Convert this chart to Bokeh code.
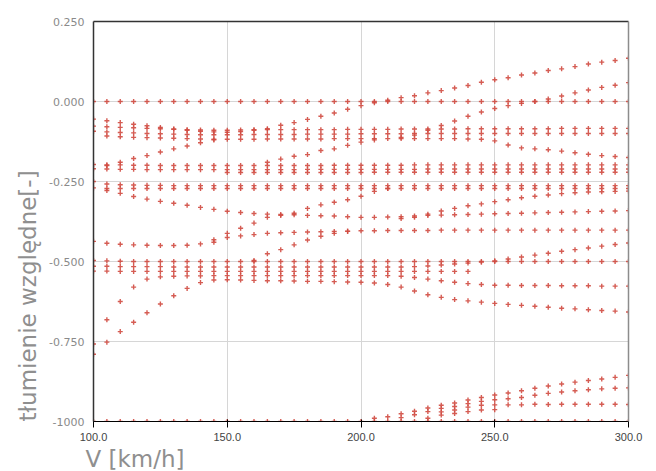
from bokeh.plotting import figure
from bokeh.models import Range1d, FixedTicker, ColumnDataSource, Title, LinearAxis
from bokeh.embed import file_html
from bokeh.resources import INLINE

# speed step between computed points [km/h]
V_STEP = 5

x_ticks = [100, 150, 200, 250, 300]
x_tick_labels = ["100.0", "150.0", "200.0", "250.0", "300.0"]
y_ticks = [0.25, 0.0, -0.25, -0.5, -0.75, -1.0]
y_tick_labels = ["0.250", "0.000", "-0.250", "-0.500", "-0.750", "-1000"]

# each branch: first speed and relative damping values every 5 km/h
zero_start = 100
zero_v = [0.0, 0.0, 0.0, 0.0, 0.0, 0.0, 0.0, 0.0, 0.0, 0.0,
          0.0, 0.0, 0.0, 0.0, 0.0, 0.0, 0.0, 0.0, 0.0, 0.0,
          0.0, 0.0, 0.0, 0.0, 0.0, 0.0, 0.0, 0.0, 0.0, 0.0,
          0.0, 0.0, 0.0, 0.0, 0.0, 0.0, 0.0, 0.0, 0.0, 0.0, 0.0]

r1_start = 100
r1_v = [-0.055, -0.06, -0.066, -0.071, -0.076, -0.081, -0.086, -0.09, -0.093, -0.095,
        -0.096, -0.094, -0.09, -0.085, -0.074, -0.066, -0.056, -0.046, -0.036, -0.024,
        -0.013, -0.004, 0.004, 0.012, 0.018, 0.027, 0.034, 0.042, 0.05, 0.06,
        0.068, 0.074, 0.083, 0.089, 0.097, 0.102, 0.109, 0.117, 0.123, 0.128, 0.135]

r2_start = 215
r2_v = [-0.112, -0.105, -0.09, -0.075, -0.061, -0.046, -0.033, -0.022, -0.013, -0.006,
        0.0, 0.008, 0.017, 0.027, 0.036, 0.044, 0.051, 0.059]

b2_start = 100
b2_v = [-0.077, -0.079, -0.081, -0.082, -0.084, -0.085, -0.087, -0.088, -0.089, -0.09,
        -0.09, -0.089, -0.088, -0.088, -0.088, -0.088, -0.088, -0.088, -0.088, -0.087,
        -0.087, -0.087, -0.087, -0.086, -0.086, -0.086, -0.086, -0.086, -0.085, -0.085,
        -0.085, -0.085, -0.085, -0.085, -0.085, -0.084, -0.084, -0.084, -0.084, -0.084, -0.084]

b3_start = 100
b3_v = [-0.093, -0.095, -0.097, -0.098, -0.1, -0.101, -0.102, -0.103, -0.104, -0.104,
        -0.104, -0.104, -0.103, -0.103, -0.103, -0.103, -0.102, -0.102, -0.102, -0.102,
        -0.101, -0.101, -0.101, -0.101, -0.1, -0.1, -0.1, -0.1, -0.1, -0.1,
        -0.1, -0.1, -0.1, -0.1, -0.1, -0.1, -0.1, -0.1, -0.1, -0.1, -0.1]

b4_start = 105
b4_v = [-0.108, -0.11, -0.112, -0.113, -0.114, -0.115, -0.116, -0.117, -0.118, -0.118,
        -0.118, -0.118, -0.117, -0.117, -0.117, -0.117, -0.117, -0.116, -0.116, -0.116,
        -0.116, -0.116, -0.116, -0.116, -0.116, -0.116, -0.116, -0.117, -0.118,
        -0.123, -0.136, -0.145, -0.148, -0.151, -0.155, -0.16, -0.165, -0.169, -0.172, -0.175]

up1_start = 105
up1_v = [-0.2, -0.19, -0.178, -0.169, -0.158, -0.148, -0.139, -0.129, -0.12]

up2_start = 165
up2_v = [-0.19, -0.18, -0.171, -0.166, -0.153, -0.148, -0.137, -0.127, -0.12]

c1_start = 100
c1_v = [-0.197, -0.198, -0.198, -0.199, -0.199, -0.2, -0.2, -0.2, -0.2, -0.2,
        -0.2, -0.2, -0.2, -0.2, -0.2, -0.2, -0.2, -0.2, -0.199, -0.199,
        -0.199, -0.199, -0.199, -0.199, -0.198, -0.198, -0.198, -0.198, -0.198, -0.198,
        -0.198, -0.198, -0.198, -0.198, -0.198, -0.198, -0.198, -0.198, -0.198, -0.198, -0.198]

c2_start = 100
c2_v = [-0.21, -0.211, -0.212, -0.212, -0.213, -0.213, -0.213, -0.213, -0.213, -0.213,
        -0.213, -0.213, -0.213, -0.213, -0.213, -0.213, -0.212, -0.212, -0.212, -0.212,
        -0.212, -0.212, -0.212, -0.212, -0.212, -0.211, -0.211, -0.211, -0.211, -0.211,
        -0.211, -0.211, -0.211, -0.211, -0.211, -0.211, -0.211, -0.211, -0.211, -0.211, -0.211]

c3_start = 150
c3_v = [-0.222, -0.222, -0.222, -0.222, -0.222, -0.222, -0.222, -0.222, -0.222, -0.222,
        -0.222, -0.221, -0.221, -0.221, -0.221, -0.221, -0.221, -0.221, -0.221, -0.221,
        -0.221, -0.221, -0.221, -0.221, -0.221, -0.221, -0.221, -0.221, -0.221, -0.221, -0.221]

d1_start = 100
d1_v = [-0.25, -0.258, -0.26, -0.261, -0.262, -0.262, -0.263, -0.263, -0.263, -0.263,
        -0.263, -0.263, -0.263, -0.263, -0.263, -0.263, -0.263, -0.263, -0.263, -0.263,
        -0.263, -0.263, -0.263, -0.263, -0.263, -0.263, -0.263, -0.263, -0.263, -0.263,
        -0.263, -0.263, -0.263, -0.263, -0.263, -0.263, -0.263, -0.263, -0.263, -0.263, -0.263]

d2_start = 100
d2_v = [-0.27, -0.272, -0.272, -0.272, -0.272, -0.272, -0.272, -0.272, -0.272, -0.272,
        -0.272, -0.272, -0.272, -0.272, -0.272, -0.272, -0.272, -0.272, -0.272, -0.272,
        -0.272, -0.272, -0.272, -0.272, -0.272, -0.272, -0.272, -0.272, -0.272, -0.272,
        -0.272, -0.272, -0.272, -0.272, -0.272, -0.272, -0.272, -0.272, -0.272, -0.272, -0.272]

down1_start = 105
down1_v = [-0.278, -0.287, -0.297, -0.305, -0.312, -0.318, -0.324, -0.331, -0.337, -0.343,
           -0.347, -0.35, -0.352, -0.353, -0.354, -0.356, -0.357, -0.358, -0.36, -0.362,
           -0.362, -0.361, -0.36, -0.358, -0.356, -0.355, -0.354, -0.353, -0.352, -0.351,
           -0.35, -0.349, -0.348, -0.347, -0.346, -0.345, -0.344, -0.343, -0.342, -0.341]

r3_start = 215
r3_v = [-0.366, -0.362, -0.352, -0.342, -0.334, -0.326, -0.32, -0.313, -0.307, -0.301,
        -0.296, -0.292, -0.288, -0.285, -0.283, -0.282, -0.281, -0.28]

m1_start = 100
m1_v = [-0.437, -0.443, -0.446, -0.448, -0.449, -0.45, -0.45, -0.449, -0.445, -0.432,
        -0.412, -0.396, -0.38, -0.362, -0.356, -0.349, -0.334, -0.323, -0.315, -0.307,
        -0.296, -0.281, -0.272]

w_start = 145
w_v = [-0.44, -0.425, -0.42, -0.416, -0.412, -0.41, -0.409, -0.408, -0.407, -0.406,
       -0.405, -0.404, -0.404, -0.403, -0.403, -0.403, -0.403, -0.402, -0.402, -0.402,
       -0.402, -0.402, -0.402, -0.402, -0.402, -0.402, -0.402, -0.402, -0.402, -0.402,
       -0.402, -0.402]

r4_start = 160
r4_v = [-0.497, -0.476, -0.463, -0.448, -0.433, -0.421, -0.412, -0.406]

p1_start = 100
p1_v = [-0.497, -0.498, -0.499, -0.5, -0.5, -0.5, -0.5, -0.5, -0.5, -0.5,
        -0.5, -0.5, -0.5, -0.5, -0.5, -0.5, -0.5, -0.5, -0.5, -0.5,
        -0.5, -0.5, -0.5, -0.5, -0.5, -0.5, -0.5, -0.5, -0.5, -0.5,
        -0.5, -0.5, -0.5, -0.5, -0.5, -0.5, -0.5, -0.5, -0.5, -0.5, -0.5]

p2_start = 100
p2_v = [-0.515, -0.515, -0.516, -0.516, -0.516, -0.516, -0.517, -0.517, -0.517, -0.517,
        -0.517, -0.517, -0.517, -0.517, -0.517, -0.517, -0.517, -0.517, -0.517, -0.517,
        -0.517, -0.517, -0.517, -0.517, -0.516, -0.514, -0.511, -0.508, -0.505, -0.502,
        -0.498, -0.492, -0.486, -0.48, -0.474, -0.468, -0.463, -0.458, -0.452, -0.447, -0.442]

p3_start = 100
p3_v = [-0.53, -0.53, -0.531, -0.531, -0.531, -0.531, -0.531, -0.531, -0.531, -0.531,
        -0.531, -0.531, -0.531, -0.531, -0.531, -0.531, -0.531, -0.531, -0.531, -0.531,
        -0.531, -0.531, -0.531, -0.531, -0.531, -0.531, -0.531, -0.531, -0.531]

l1_start = 100
l1_v = [-0.79, -0.752, -0.719, -0.69, -0.66, -0.633, -0.607, -0.584, -0.566, -0.558,
        -0.557, -0.558, -0.559, -0.56, -0.56, -0.561, -0.562, -0.562, -0.563, -0.564,
        -0.565, -0.567, -0.572, -0.58, -0.592, -0.604, -0.612, -0.619, -0.623, -0.627,
        -0.631, -0.634, -0.637, -0.64, -0.643, -0.646, -0.648, -0.651, -0.653, -0.655, -0.658]

l2_start = 100
l2_v = [-0.758, -0.682, -0.625, -0.58, -0.555, -0.548, -0.546, -0.545, -0.545, -0.544,
        -0.544, -0.544, -0.544, -0.544, -0.544, -0.544, -0.544, -0.544, -0.544, -0.544,
        -0.544, -0.544, -0.544, -0.546, -0.55, -0.555, -0.56, -0.565, -0.569, -0.572,
        -0.574, -0.574, -0.575, -0.575, -0.575, -0.576, -0.576, -0.576, -0.577, -0.577, -0.577]

bot_start = 100
bot_v = [-1.0, -1.0, -1.0, -1.0, -1.0, -1.0, -1.0, -1.0, -1.0, -1.0,
         -1.0, -1.0, -1.0, -1.0, -1.0, -1.0, -1.0, -1.0, -1.0, -1.0,
         -1.0, -1.0, -1.0, -1.0, -1.0, -1.0, -1.0, -1.0, -1.0, -1.0,
         -1.0, -1.0, -1.0, -1.0, -1.0, -1.0, -1.0, -1.0, -1.0, -1.0, -1.0]

f1_start = 205
f1_v = [-0.99, -0.985, -0.976, -0.968, -0.958, -0.949, -0.942, -0.933, -0.925, -0.917,
        -0.911, -0.904, -0.896, -0.889, -0.883, -0.877, -0.872, -0.867, -0.862, -0.856]

f2_start = 215
f2_v = [-0.988, -0.979, -0.969, -0.959, -0.953, -0.944, -0.937, -0.932, -0.929, -0.925,
        -0.918, -0.912, -0.908, -0.904, -0.901, -0.898, -0.896, -0.895]

f3_start = 225
f3_v = [-0.99, -0.97, -0.964, -0.955, -0.949, -0.948, -0.948, -0.948, -0.946, -0.947,
        -0.946, -0.946, -0.946, -0.946, -0.946, -0.947]

f4_start = 230
f4_v = [-0.98, -0.975, -0.969, -0.964, -0.963]

branches = [
    (zero_start, zero_v), (r1_start, r1_v), (r2_start, r2_v),
    (b2_start, b2_v), (b3_start, b3_v), (b4_start, b4_v),
    (up1_start, up1_v), (up2_start, up2_v),
    (c1_start, c1_v), (c2_start, c2_v), (c3_start, c3_v),
    (d1_start, d1_v), (d2_start, d2_v), (down1_start, down1_v), (r3_start, r3_v),
    (m1_start, m1_v), (w_start, w_v), (r4_start, r4_v),
    (p1_start, p1_v), (p2_start, p2_v), (p3_start, p3_v),
    (l1_start, l1_v), (l2_start, l2_v),
    (bot_start, bot_v), (f1_start, f1_v), (f2_start, f2_v), (f3_start, f3_v), (f4_start, f4_v),
]

xs, ys = [], []
for start, vals in branches:
    for i, v in enumerate(vals):
        xs.append(start + V_STEP * i)
        ys.append(v)
src = ColumnDataSource(data=dict(x=xs, y=ys))

p = figure(width=656, height=471, output_backend="svg", toolbar_location=None,
           x_range=Range1d(100, 300), y_range=Range1d(-1.0, 0.25),
           min_border_left=93, min_border_right=28, min_border_top=21, min_border_bottom=50)
p.background_fill_color = "white"
p.border_fill_color = "white"
p.outline_line_color = None

p.scatter("x", "y", source=src, marker="cross", size=5, line_color="#d04a40",
          line_width=1.4, line_alpha=0.9)

p.xaxis.ticker = FixedTicker(ticks=x_ticks)
p.xaxis.major_label_overrides = dict(zip(x_ticks, x_tick_labels))
p.yaxis.ticker = FixedTicker(ticks=y_ticks)
p.yaxis.major_label_overrides = dict(zip(y_ticks, y_tick_labels))

# grey frame on top and right
top_ax = LinearAxis(ticker=FixedTicker(ticks=[]))
right_ax = LinearAxis(ticker=FixedTicker(ticks=[]))
for ax in (top_ax, right_ax):
    ax.axis_line_color = "#8c8c8c"
    ax.axis_line_width = 1.5
    ax.major_tick_in = 0
    ax.major_tick_out = 0
    ax.minor_tick_in = 0
    ax.minor_tick_out = 0
p.add_layout(top_ax, "above")
p.add_layout(right_ax, "right")

for ax in (p.xaxis[0], p.yaxis[0]):
    ax.axis_line_color = "#333333"
    ax.axis_line_width = 1.5
    ax.major_tick_in = 0
    ax.major_tick_out = 0
    ax.minor_tick_in = 0
    ax.minor_tick_out = 0
    ax.major_label_text_font = "DejaVu Sans"
    ax.major_label_text_font_size = "11px"
    ax.major_label_text_color = "#8a8a8a"
p.yaxis[0].major_label_standoff = 9
p.xaxis[0].major_label_standoff = 4

p.xgrid.ticker = FixedTicker(ticks=[150, 200, 250])
p.ygrid.ticker = FixedTicker(ticks=[0.0, -0.25, -0.5, -0.75])
p.grid.grid_line_color = "#d6d6d6"
p.grid.grid_line_width = 1

xlab = Title(text="V [km/h]", align="left", offset=-8, standoff=0,
             text_font="DejaVu Sans", text_font_size="23px", text_font_style="normal",
             text_color="#8f8f8f")
ylab = Title(text="tłumienie względne[-]", align="left", offset=0, standoff=12,
             text_font="DejaVu Sans", text_font_size="23px", text_font_style="normal",
             text_color="#8f8f8f")
p.add_layout(xlab, "below")
p.add_layout(ylab, "left")

open("out.html", "w").write(file_html(p, INLINE))
